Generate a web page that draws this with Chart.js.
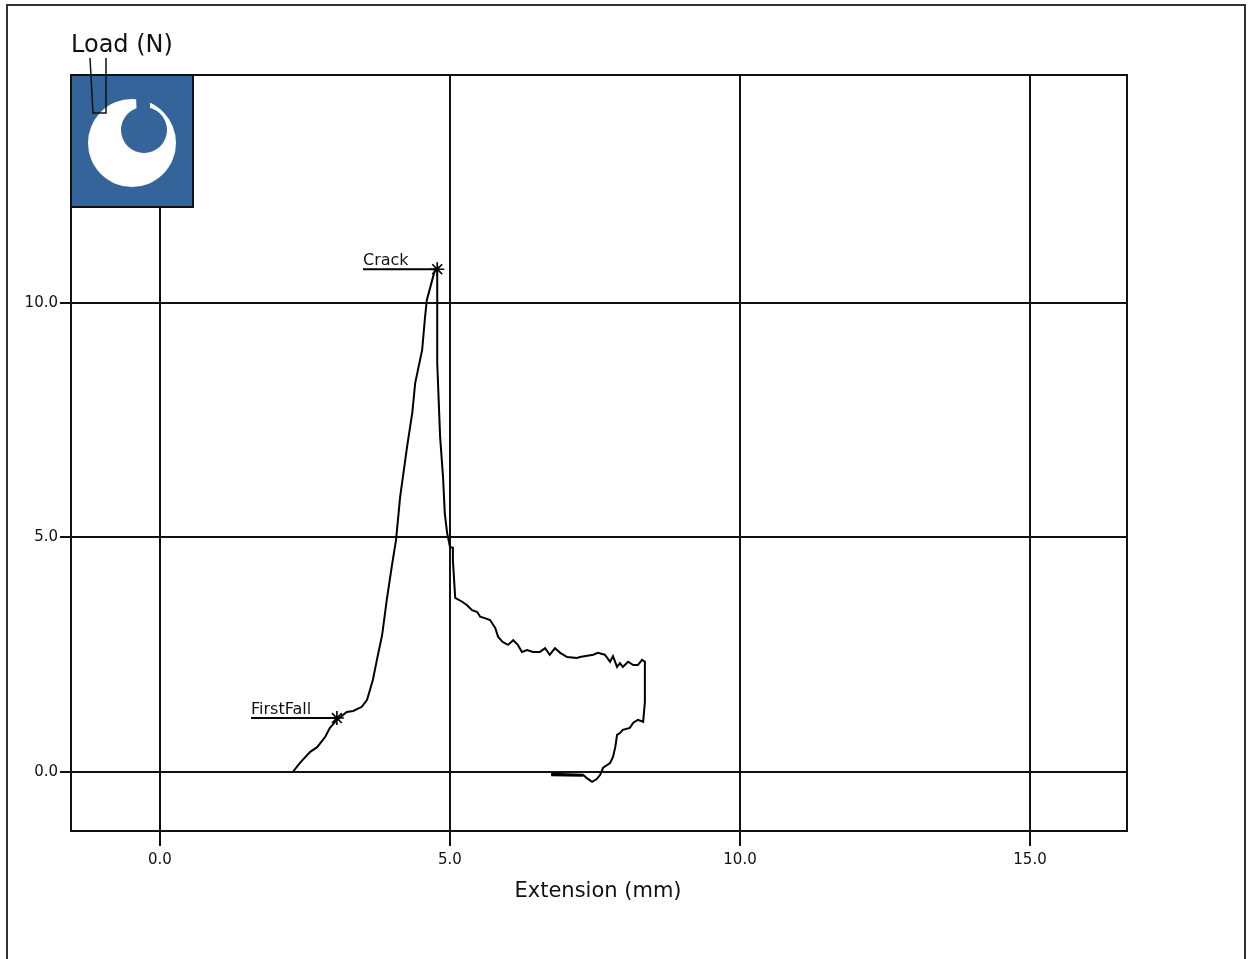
<!DOCTYPE html>
<html>
<head>
<meta charset="utf-8">
<script src="https://cdn.jsdelivr.net/npm/chart.js@4/dist/chart.umd.min.js"></script>
<style>
    html, body { margin: 0; padding: 0; background: #fff; }
    #chart { display: block; }
</style>
</head>
<body>
<canvas id="chart" width="1248" height="959"></canvas>
<script>
// load / extension trace
var extension = [
    2.29, 2.41, 2.59, 2.71, 2.85, 2.93, 3.05, 3.22, 3.33, 3.48, 3.57, 3.62, 3.67,
    3.74, 3.83, 3.91, 4.00, 4.07, 4.14, 4.26, 4.35, 4.40, 4.52, 4.57, 4.60, 4.67,
    4.74, 4.78, 4.78, 4.78, 4.83, 4.88, 4.91, 4.95, 5.00, 5.05, 5.05, 5.09,
    5.21, 5.29, 5.38, 5.47, 5.52, 5.60, 5.69, 5.78, 5.83, 5.91, 6.00, 6.09, 6.17,
    6.24, 6.33, 6.43, 6.55, 6.64, 6.72, 6.81, 6.90, 7.02, 7.19, 7.24, 7.47, 7.55,
    7.67, 7.76, 7.81, 7.88, 7.93, 7.98, 8.07, 8.16, 8.24, 8.31, 8.36,
    8.36, 8.33, 8.24, 8.16, 8.10, 7.98, 7.93, 7.88, 7.85, 7.81, 7.76, 7.64, 7.59,
    7.53, 7.45, 7.36, 7.29, 6.76, 6.76, 7.29
];
var load = [
    0.00, 0.19, 0.43, 0.53, 0.75, 0.94, 1.11, 1.28, 1.30, 1.39, 1.54, 1.75, 1.96,
    2.39, 2.92, 3.67, 4.41, 4.95, 5.86, 6.93, 7.66, 8.29, 9.00, 9.70, 10.06, 10.38,
    10.70, 10.75, 10.06, 8.72, 7.14, 6.29, 5.52, 5.10, 4.80, 4.78, 4.52, 3.71,
    3.63, 3.56, 3.45, 3.41, 3.31, 3.28, 3.24, 3.07, 2.88, 2.77, 2.71, 2.81, 2.71,
    2.56, 2.60, 2.56, 2.56, 2.64, 2.50, 2.64, 2.54, 2.45, 2.43, 2.45, 2.50, 2.54,
    2.50, 2.35, 2.47, 2.24, 2.32, 2.24, 2.35, 2.28, 2.28, 2.39, 2.35,
    1.49, 1.07, 1.11, 1.05, 0.94, 0.90, 0.83, 0.79, 0.53, 0.32, 0.19, 0.09, -0.06,
    -0.15, -0.21, -0.13, -0.06, -0.04, -0.07, -0.08
];

// marked events
var eventNames = ['Crack', 'FirstFall'];
var eventX = [4.78, 3.05];
var eventY = [10.72, 1.15];
var eventLabelX = [3.50, 1.57];

var xTicks = [0, 5, 10, 15];
var yTicks = [0, 5, 10];

var curve = extension.map(function (x, i) { return { x: x, y: load[i] }; });
var markers = eventX.map(function (x, i) { return { x: x, y: eventY[i] }; });

var datasets = [{
    data: curve,
    showLine: true,
    borderColor: '#000',
    borderWidth: 2,
    pointRadius: 0,
    tension: 0
}, {
    data: markers,
    showLine: false,
    pointStyle: 'star',
    pointRadius: 7,
    borderColor: '#000',
    borderWidth: 1.6
}];

// underline under each event name, running to its marker
eventNames.forEach(function (name, i) {
    datasets.push({
        data: [{ x: eventLabelX[i], y: eventY[i] }, { x: eventX[i], y: eventY[i] }],
        showLine: true,
        borderColor: '#000',
        borderWidth: 2,
        pointRadius: 0
    });
});

var decorPlugin = {
    id: 'decor',
    beforeDraw: function (chart) {
        var ctx = chart.ctx;
        ctx.save();
        ctx.fillStyle = '#fff';
        ctx.fillRect(0, 0, chart.width, chart.height);
        ctx.restore();
    },
    afterDraw: function (chart) {
        var ctx = chart.ctx;
        var a = chart.chartArea;
        var xs = chart.scales.x, ys = chart.scales.y;
        ctx.save();

        // outer frame
        ctx.strokeStyle = '#333';
        ctx.lineWidth = 2;
        ctx.strokeRect(7, 5, 1238, 970);

        // plot frame
        ctx.strokeStyle = '#111';
        ctx.lineWidth = 2;
        ctx.strokeRect(a.left, a.top, a.right - a.left, a.bottom - a.top);

        // logo box
        ctx.fillStyle = '#34649a';
        ctx.fillRect(71, 75, 122, 132);
        ctx.strokeRect(71, 75, 122, 132);
        ctx.fillStyle = '#fff';
        ctx.beginPath();
        ctx.arc(132, 143, 44, 0, Math.PI * 2);
        ctx.fill();
        ctx.fillStyle = '#34649a';
        ctx.beginPath();
        ctx.arc(144, 130, 23, 0, Math.PI * 2);
        ctx.fill();
        ctx.beginPath();
        ctx.moveTo(136, 97);
        ctx.lineTo(150, 97);
        ctx.lineTo(150, 118);
        ctx.lineTo(137, 118);
        ctx.closePath();
        ctx.fill();

        // little bracket under "Load"
        ctx.strokeStyle = '#111';
        ctx.lineWidth = 1.5;
        ctx.beginPath();
        ctx.moveTo(90, 58);
        ctx.lineTo(93, 113);
        ctx.lineTo(106, 113);
        ctx.lineTo(106, 58);
        ctx.stroke();

        // axis titles
        ctx.fillStyle = '#111';
        ctx.textBaseline = 'alphabetic';
        ctx.textAlign = 'left';
        ctx.font = '24px "DejaVu Sans"';
        ctx.fillText('Load (N)', 71, 52);
        ctx.textAlign = 'center';
        ctx.font = '21px "DejaVu Sans"';
        ctx.fillText('Extension (mm)', 598, 897);

        // event labels
        ctx.textAlign = 'left';
        ctx.font = '16px "DejaVu Sans"';
        eventNames.forEach(function (name, i) {
            ctx.fillText(name, xs.getPixelForValue(eventLabelX[i]), ys.getPixelForValue(eventY[i]) - 4);
        });
        ctx.restore();
    }
};

var tickFont = { family: '"DejaVu Sans"', size: 15 };

new Chart(document.getElementById('chart'), {
    type: 'scatter',
    data: { datasets: datasets },
    options: {
        responsive: false,
        animation: false,
        devicePixelRatio: 1,
        layout: { padding: { top: 75, right: 121, bottom: 0, left: 0 } },
        plugins: { legend: { display: false }, tooltip: { enabled: false } },
        scales: {
            x: {
                type: 'linear',
                min: -1.534,
                max: 16.672,
                afterBuildTicks: function (scale) {
                    scale.ticks = xTicks.map(function (v) { return { value: v }; });
                },
                afterFit: function (scale) { scale.height = 128; },
                grid: { color: '#111', lineWidth: 2, tickLength: 15, tickColor: '#111' },
                border: { display: true, color: '#111', width: 2 },
                ticks: {
                    color: '#111',
                    font: tickFont,
                    padding: 5,
                    maxRotation: 0,
                    callback: function (v) { return Number(v).toFixed(1); }
                }
            },
            y: {
                type: 'linear',
                min: -1.258,
                max: 14.86,
                afterBuildTicks: function (scale) {
                    scale.ticks = yTicks.map(function (v) { return { value: v }; });
                },
                afterFit: function (scale) { scale.width = 71; },
                grid: { color: '#111', lineWidth: 2, tickLength: 11, tickColor: '#111' },
                border: { display: true, color: '#111', width: 2 },
                ticks: {
                    color: '#111',
                    font: tickFont,
                    padding: 2,
                    callback: function (v) { return Number(v).toFixed(1); }
                }
            }
        }
    },
    plugins: [decorPlugin]
});
</script>
</body>
</html>
